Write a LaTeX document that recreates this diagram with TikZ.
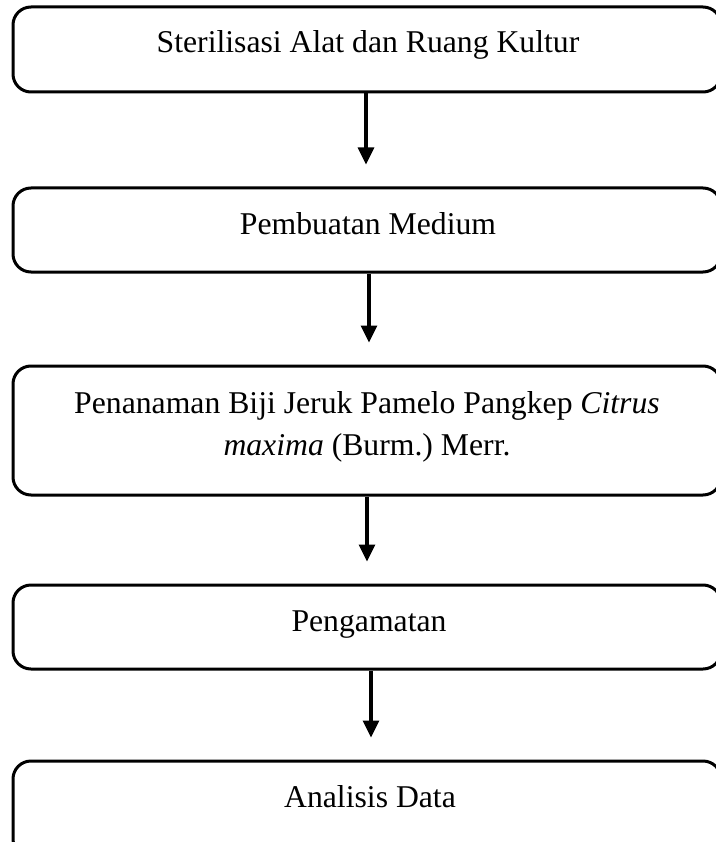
\documentclass[tikz,border=0pt]{standalone}
\usepackage{fontspec}
\setmainfont{Liberation Serif}
\usetikzlibrary{arrows.meta}
\frenchspacing
\begin{document}
\begin{tikzpicture}[x=1pt,y=1pt,
  box/.style={draw=black, line width=3pt, rounded corners=18pt, minimum width=708pt, inner sep=0pt},
  lbl/.style={anchor=base, inner sep=0pt, font=\fontsize{31.7}{42}\selectfont},
  arr/.style={line width=3.2pt, -{Triangle[length=17pt,width=16pt]}, shorten >=22pt}]
\useasboundingbox (0,0) rectangle (715,-842);
\node[box, minimum height=85pt] (b1) at (367,-49.5) {};
\node[box, minimum height=84pt] (b2) at (367,-230) {};
\node[box, minimum height=129pt] (b3) at (367,-430.5) {};
\node[box, minimum height=84pt] (b4) at (367,-627) {};
\node[box, minimum height=96pt] (b5) at (367,-809) {};
\node[lbl] (t1) at (368,-53) {Sterilisasi Alat dan Ruang Kultur};
\node[lbl] (t2) at (368,-234) {Pembuatan Medium};
\node[lbl] (t3a) at (367,-413) {Penanaman Biji Jeruk Pamelo Pangkep \textit{Citrus}};
\node[lbl] (t3b) at (367,-455) {\frenchspacing\textit{maxima} (Burm.)\ Merr.};
\node[lbl] (t4) at (369,-631) {Pengamatan};
\node[lbl] (t5) at (370,-807) {Analisis Data};
\draw[arr] ([xshift=-1pt]b1.south) -- ([xshift=-1pt]b2.north);
\draw[arr] ([xshift=2pt]b2.south) -- ([xshift=2pt]b3.north);
\draw[arr] ([xshift=0pt]b3.south) -- ([xshift=0pt]b4.north);
\draw[arr] ([xshift=4pt]b4.south) -- ([xshift=4pt]b5.north);
\end{tikzpicture}
\end{document}
